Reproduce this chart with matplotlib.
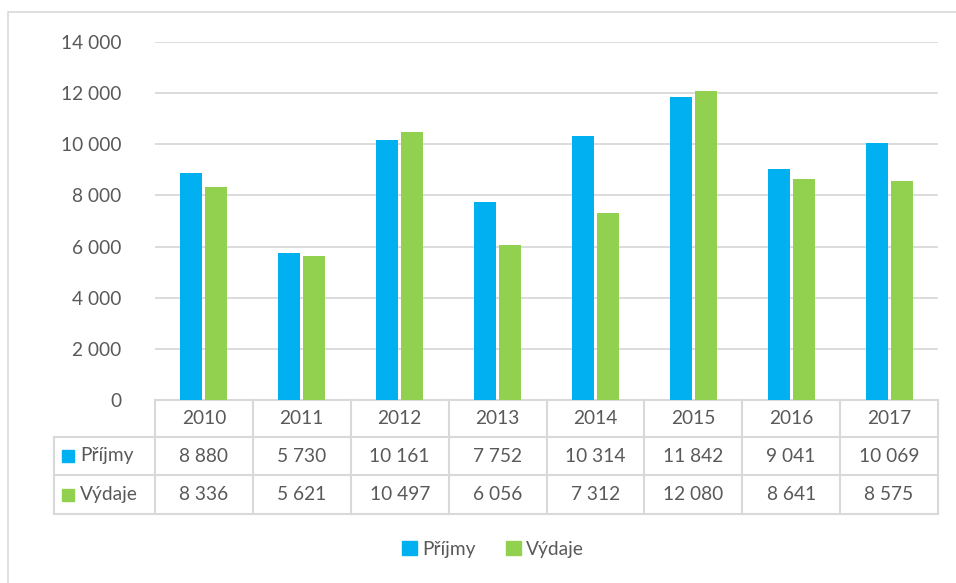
import matplotlib
matplotlib.use("Agg")
import matplotlib.pyplot as plt
from matplotlib.transforms import blended_transform_factory
from matplotlib.patches import Rectangle
from matplotlib.lines import Line2D

years = ["2010", "2011", "2012", "2013", "2014", "2015", "2016", "2017"]
prijmy = [8880, 5730, 10161, 7752, 10314, 11842, 9041, 10069]
vydaje = [8336, 5621, 10497, 6056, 7312, 12080, 8641, 8575]
series_names = ["Příjmy", "Výdaje"]
yticks = [0, 2000, 4000, 6000, 8000, 10000, 12000, 14000]

BLUE = "#00B0F0"
GREEN = "#92D050"
TXT = "#595959"
GRID = "#D9D9D9"
FS = 13.8

plt.rcParams['font.family'] = ['Lato', 'DejaVu Sans']

W, H = 956, 583
fig = plt.figure(figsize=(W / 100, H / 100), dpi=100)

def fx(px):
    return px / W

def fy(py):
    return 1 - py / H

# outer chart border
fig.patches.append(Rectangle((fx(8), -0.05), 1.1, fy(12) + 0.05, transform=fig.transFigure,
                             fill=False, edgecolor=GRID, linewidth=1.2))

ax_l, ax_r, ax_t, ax_b = 155, 938, 42, 400
ax = fig.add_axes([fx(ax_l), fy(ax_b), fx(ax_r - ax_l), (ax_b - ax_t) / H])

n = len(years)
x = list(range(n))
bw = 0.225
gap = 0.03
ax.bar([i - (bw + gap) / 2 for i in x], prijmy, width=bw, color=BLUE, zorder=3)
ax.bar([i + (bw + gap) / 2 for i in x], vydaje, width=bw, color=GREEN, zorder=3)

ax.set_xlim(-0.5, n - 0.5)
ax.set_ylim(0, 14000)
ax.set_yticks(yticks)
ax.set_yticklabels([f"{v:,}".replace(",", " ") for v in yticks])
ax.tick_params(axis='y', length=0, pad=24, labelsize=FS, labelcolor=TXT)
ax.tick_params(axis='x', length=0, labelbottom=False)
ax.grid(axis='y', color=GRID, linewidth=1.3, zorder=0)
for s in ax.spines.values():
    s.set_visible(False)

# data table
tr = blended_transform_factory(ax.transData, ax.transAxes)
tra = ax.transAxes
ph = ax_b - ax_t

def ay(py):
    return (ax_b - py) / ph

rows = [400, 437, 475, 514]
hdr_left = (54 - ax_l) / (ax_r - ax_l)
lw = 1.5
# horizontal lines
ax.add_line(Line2D([0, 1], [ay(rows[0])] * 2, transform=tra, color=GRID, lw=lw, clip_on=False))
for r in rows[1:]:
    ax.add_line(Line2D([hdr_left, 1], [ay(r)] * 2, transform=tra, color=GRID, lw=lw, clip_on=False))
# vertical lines
for i in range(n + 1):
    ax.add_line(Line2D([i - 0.5, i - 0.5], [ay(rows[0]), ay(rows[-1])], transform=tr,
                       color=GRID, lw=lw, clip_on=False))
ax.add_line(Line2D([hdr_left, hdr_left], [ay(rows[1]), ay(rows[-1])], transform=tra,
                   color=GRID, lw=lw, clip_on=False))

def fmt(v):
    return f"{v:,}".replace(",", " ")

yc = [ay((rows[k] + rows[k + 1]) / 2) for k in range(3)]
for i, yr in enumerate(years):
    ax.text(i, yc[0], yr, transform=tr, ha='center', va='center', fontsize=FS, color=TXT)
    ax.text(i, yc[1], fmt(prijmy[i]), transform=tr, ha='center', va='center', fontsize=FS, color=TXT)
    ax.text(i, yc[2], fmt(vydaje[i]), transform=tr, ha='center', va='center', fontsize=FS, color=TXT)

for k, (name, col) in enumerate(zip(series_names, [BLUE, GREEN])):
    ycen = (rows[k + 1] + rows[k + 2]) / 2
    sq = 12
    ax.add_patch(Rectangle(((62 - ax_l) / (ax_r - ax_l), ay(ycen + sq / 2)),
                           sq / (ax_r - ax_l), sq / ph, transform=tra,
                           color=col, clip_on=False))
    ax.text((80 - ax_l) / (ax_r - ax_l), ay(ycen), name, transform=tra, ha='left', va='center',
            fontsize=FS, color=TXT)

# legend
handles = [Rectangle((0, 0), 1, 1, color=BLUE), Rectangle((0, 0), 1, 1, color=GREEN)]
fig.legend(handles, series_names, loc='center', bbox_to_anchor=(fx(493), fy(549)), ncol=2,
           frameon=False, fontsize=FS, labelcolor=TXT, handlelength=0.8, handleheight=0.8,
           handletextpad=0.25, columnspacing=1.6)

fig.savefig("out.png", dpi=100)
